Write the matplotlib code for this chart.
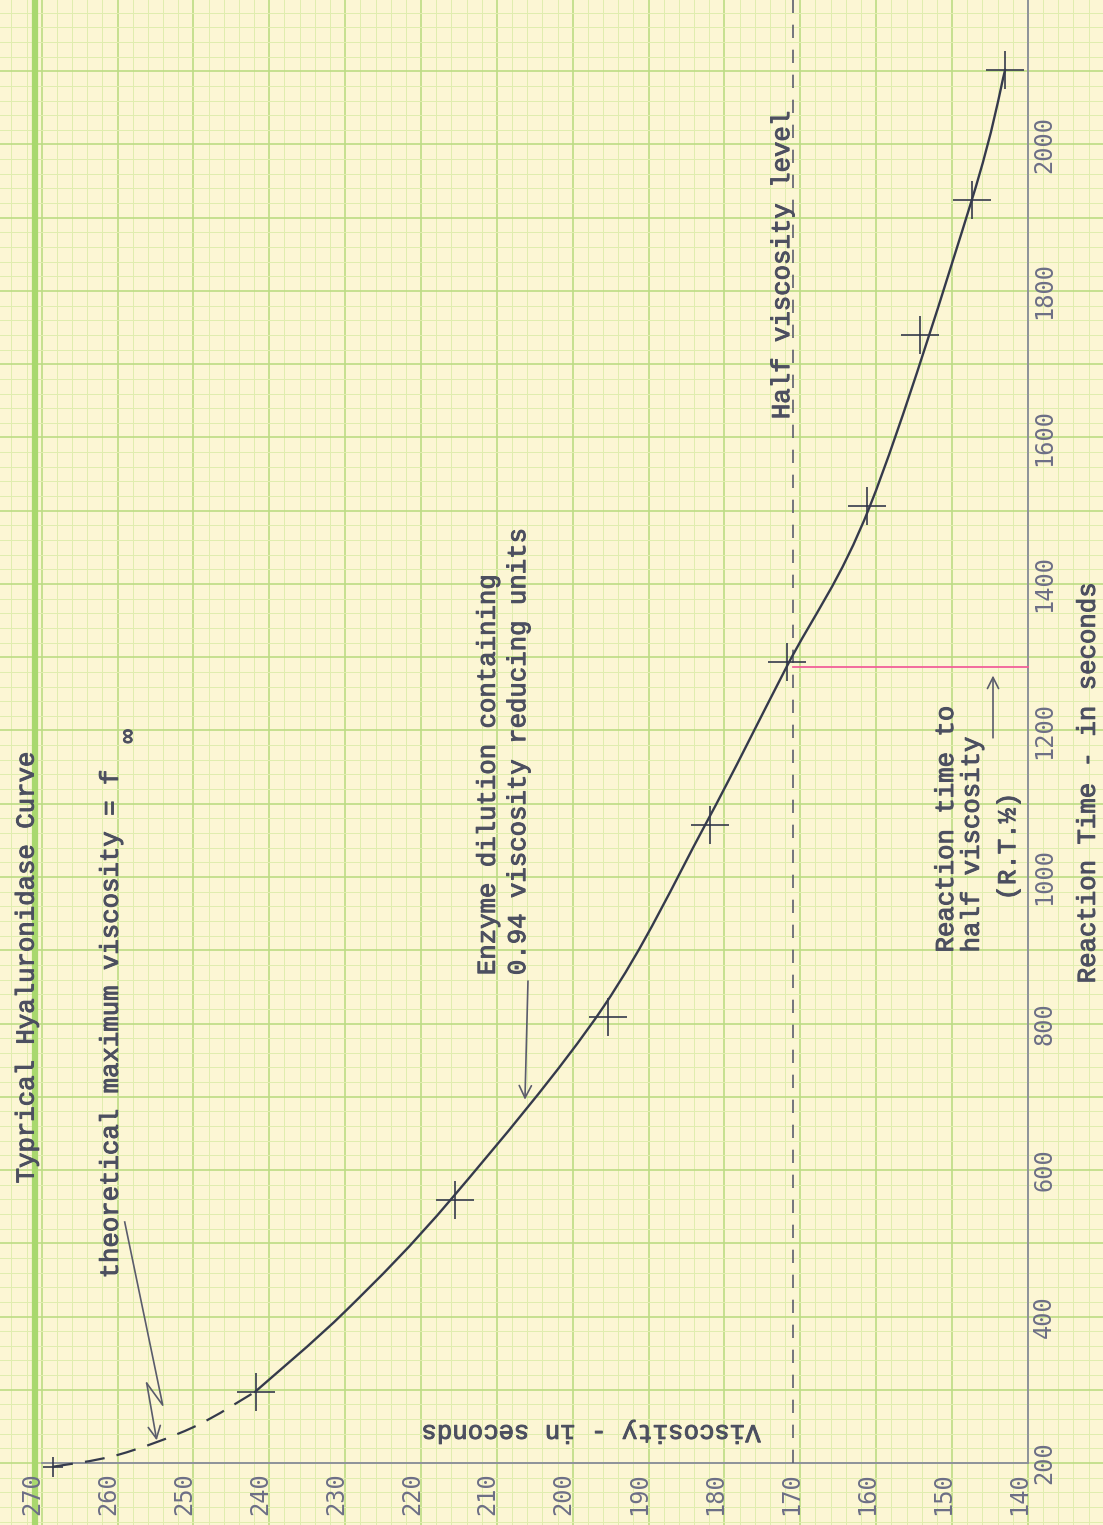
import matplotlib
matplotlib.use("Agg")
import matplotlib.pyplot as plt
import matplotlib.patheffects as pe
from matplotlib.path import Path
from matplotlib.patches import PathPatch
import numpy as np

# hand-drawn viscosity curve (viscosity in s, reaction time in s)
curve_visc = [268.5, 260.0, 250.0, 241.9, 229.8, 215.8, 196.0, 182.6,
              171.8, 160.8, 147.4, 143.0]
curve_time = [195, 211, 249, 297, 409, 563, 822, 1070,
              1287, 1507, 1924, 2102]
n_dashed = 4  # extrapolated part toward the theoretical maximum

# measured readings
point_visc = [268.5, 241.7, 215.5, 195.4, 181.9, 171.8, 161.2, 154.2, 147.4, 143.0]
point_time = [195, 297, 559, 809, 1071, 1294, 1507, 1740, 1924, 2102]

half_level = 171.0      # half viscosity
rt_half = 1287          # reaction time to half viscosity

visc_ticks = [270, 260, 250, 240, 230, 220, 210, 200, 190, 180, 170, 160, 150, 140]
time_ticks = [200, 400, 600, 800, 1000, 1200, 1400, 1600, 1800, 2000]

PAPER = "#fcf6d4"
MINOR = "#e0edae"
MAJOR = "#bddc84"
INK = "#353a4c"
TYPE = "#4c4f60"
LETTER = "#6c6e86"

TYPEFACE = ["Liberation Mono", "DejaVu Sans Mono"]
LETTERING = ["DejaVu Sans Mono"]


def smooth_path(xs, ys):
    # Catmull-Rom through the drawn points, as cubic Bezier segments
    pts = np.column_stack([xs, ys]).astype(float)
    n = len(pts)
    verts = [pts[0]]
    codes = [Path.MOVETO]
    for i in range(n - 1):
        p0 = pts[max(i - 1, 0)]
        p1 = pts[i]
        p2 = pts[i + 1]
        p3 = pts[min(i + 2, n - 1)]
        verts += [p1 + (p2 - p0) / 6, p2 - (p3 - p1) / 6, p2]
        codes += [Path.CURVE4] * 3
    return Path(verts, codes)


fig = plt.figure(figsize=(11.03, 15.25), dpi=100)
fig.patch.set_facecolor(PAPER)
ax = fig.add_axes([0, 0, 1, 1])
ax.set_xlim(275.5, 130.1)
ax.set_ylim(115.4, 2197.2)
ax.axis("off")

# graph paper
for v in np.arange(130, 278, 2):
    major = v % 10 == 0
    ax.axvline(v, color=MAJOR if major else MINOR, lw=1.2 if major else 0.7, zorder=0)
for t in np.arange(120, 2200, 20):
    major = t % 100 == 0
    ax.axhline(t, color=MAJOR if major else MINOR, lw=1.2 if major else 0.7, zorder=0)
ax.axvline(270.9, color="#a9d86e", lw=4.5, zorder=0)

# axes
ax.plot([270, 140], [200, 200], color="#8a8c9c", lw=1.3, zorder=1)
ax.plot([140, 140], [200, 2197], color="#8a8c9c", lw=1.3, zorder=1)

for v in visc_ticks:
    ax.annotate(str(v), (v, 200), xytext=(2, -7), textcoords="offset points",
                rotation=90, ha="right", va="top", fontsize=17,
                family=LETTERING, color=LETTER)
for t in time_ticks:
    ax.annotate(str(t), (140, t), xytext=(3, 0), textcoords="offset points",
                rotation=90, ha="left", va="center", fontsize=17,
                family=LETTERING, color=LETTER)

# half viscosity level and reaction time marker
ax.plot([half_level, half_level], [200, 2197], color="#5c5e6e", lw=1.2,
        dashes=(8, 7), zorder=2)
ax.plot([half_level, 140], [rt_half, rt_half], color="#f2609a", lw=1.3, zorder=2)

# curve: dashed extrapolation, then the solid fit
ax.add_patch(PathPatch(smooth_path(curve_visc[:n_dashed], curve_time[:n_dashed]),
                       fill=False, edgecolor=INK, lw=1.6,
                       linestyle=(0, (9, 5.5)), zorder=3))
ax.add_patch(PathPatch(smooth_path(curve_visc[n_dashed - 1:], curve_time[n_dashed - 1:]),
                       fill=False, edgecolor=INK, lw=1.7, capstyle="round",
                       joinstyle="round", zorder=3))
for i, (v, t) in enumerate(zip(point_visc, point_time)):
    ax.plot(v, t, marker="+", ms=15 if i == 0 else 27, mew=1.2, color=INK, zorder=4)

ink = [pe.withStroke(linewidth=0.7, foreground=TYPE)]
tw = dict(family=TYPEFACE, fontsize=18.5, color=TYPE, path_effects=ink)
arrow = dict(arrowstyle="->", color="#5a5c6c", lw=1.2, mutation_scale=22,
             shrinkA=0, shrinkB=0)

ax.text(272.0, 878, "Typrical Hyaluronidase Curve", rotation=90,
        ha="center", va="center", **tw)
ax.text(260.9, 452, "theoretical maximum viscosity = f", rotation=90,
        ha="center", va="bottom", **tw)
ax.text(258.6, 1192, "\u221e", rotation=90, ha="center", va="center",
        family=TYPEFACE, fontsize=17, color=TYPE, path_effects=ink)
ax.annotate("", xy=(254.84, 231), xytext=(256.16, 309), arrowprops=arrow)
ax.plot([259.06, 254.05, 256.16], [529, 279, 309], color="#5a5c6c", lw=1.2)

ax.text(211.2, 866, "Enzyme dilution containing", rotation=90,
        ha="center", va="bottom", **tw)
ax.text(207.2, 866, "0.94 viscosity reducing units", rotation=90,
        ha="center", va="bottom", **tw)
ax.annotate("", xy=(206.3, 696), xytext=(205.9, 858), arrowprops=arrow)

ax.text(172.4, 1625, "Half viscosity level", rotation=90,
        ha="center", va="bottom", **tw)

ax.text(150.8, 897, "Reaction time to", rotation=90, ha="center", va="bottom", **tw)
ax.text(147.4, 897, "half viscosity", rotation=90, ha="center", va="bottom", **tw)
ax.text(142.6, 1042, "(R.T.\u00bd)", rotation=90, ha="center", va="center", **tw)
ax.annotate("", xy=(144.6, 1275), xytext=(144.6, 1190),
            arrowprops=dict(arrow, mutation_scale=20))

ax.text(197.7, 242, "Viscosity - in seconds", rotation=180,
        ha="center", va="center", **tw)
ax.text(132.1, 1130, "Reaction Time - in seconds", rotation=90,
        ha="center", va="center", **tw)

fig.savefig("out.png", dpi=100, facecolor=PAPER)
